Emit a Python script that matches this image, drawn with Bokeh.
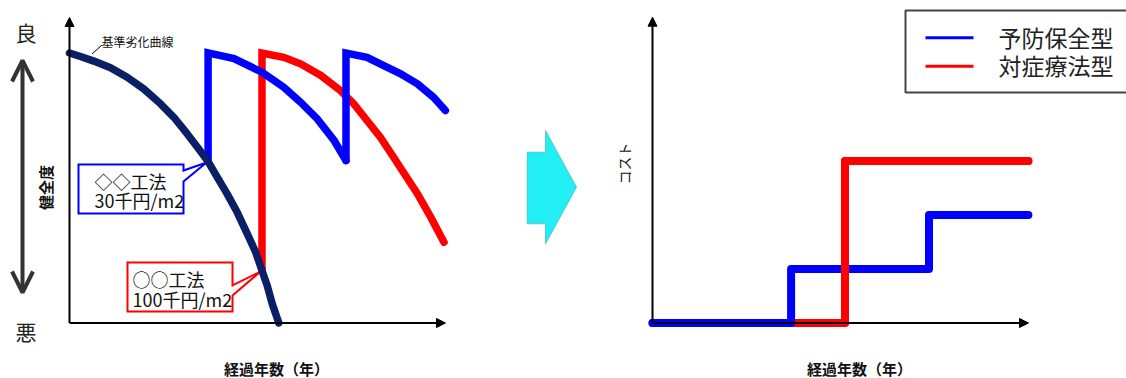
import numpy as np
from bokeh.plotting import figure
from bokeh.models import Range1d, Arrow, NormalHead, OpenHead
from bokeh.layouts import row
from bokeh.core.properties import value
from bokeh.embed import file_html
from bokeh.resources import INLINE

# ---------------- data ----------------
# Left panel: soundness (health index) vs elapsed years
base_years = [0, 1.57, 3.47, 5.86, 8.24, 10.6, 13.0, 14.9, 16.8, 18.25, 19.7,
              21.1, 22.5, 23.96, 25.4, 26.6, 27.5, 28.24, 28.96, 29.9]
base_health = [100, 98.7, 97.0, 94.5, 91.0, 86.7, 81.2, 76.2, 70.1, 65.2, 60.2,
               54.0, 47.9, 41.0, 33.0, 26.2, 19.4, 13.9, 7.1, 0]
prev_years = [19.8, 19.8, 21.6, 23.5, 27.5, 30.6, 33.0, 35.4, 37.8, 39.5,
              39.5, 42.5, 44.9, 47.3, 49.7, 52.0, 53.7]
prev_health = [60.2, 100, 99.0, 97.9, 92.9, 87.3, 81.8, 75.6, 67.6, 60.2,
               100, 98.4, 95.3, 92.3, 88.6, 83.6, 78.7]
corr_years = [27.5, 27.5, 30.6, 33.0, 35.9, 38.7, 40.6, 42.5, 44.4, 46.3, 48.0,
              49.7, 51.6, 53.5]
corr_health = [19.4, 100, 98.4, 96.0, 91.7, 86.1, 81.2, 75.0, 68.8, 61.4, 54.6,
               47.9, 39.2, 29.9]

# Right panel: cumulative cost vs elapsed years
prev_cost_years = [0, 19.8, 19.8, 39.5, 39.5, 53.7]
prev_cost = [0, 0, 30, 30, 60, 60]
corr_cost_years = [0, 27.5, 27.5, 53.7]
corr_cost = [0, 0, 90, 90]

base_label = "基準劣化曲線"
prev_method = ["◇◇工法", "30千円/m2"]
corr_method = ["○○工法", "100千円/m2"]
legend_labels = ["予防保全型", "対症療法型"]
x_title = "経過年数（年）"
left_y_title = "健全度"
right_y_title = "コスト"
good_bad = ["良", "悪"]

# ---------------- layout helpers ----------------
FONT = value("Noto Sans CJK JP")
NAVY = "#0A1F66"
BLUE = "#0000FF"
RED = "#FF0000"

H = 378
LW, RW = 500, 626
L_X0, L_Y0, L_XS, L_YS = 69.0, 322.5, 7.0, 2.7
R_X0, R_Y0, R_XS, R_YS = 652.0, 322.5, 7.0, 1.8


def lx(s):
    return (s - L_X0) / L_XS


def ly(s):
    return (L_Y0 - s) / L_YS


def rx(s):
    return (s - R_X0) / R_XS


def ry(s):
    return (R_Y0 - s) / R_YS


def base_fig(w, xr, yr):
    p = figure(width=w, height=H, x_range=Range1d(*xr), y_range=Range1d(*yr),
               x_axis_type=None, y_axis_type=None, toolbar_location=None,
               output_backend="svg", min_border=0, title=None)
    p.outline_line_color = None
    p.background_fill_color = "white"
    p.border_fill_color = "white"
    return p


def txt(p, x, y, t, size, align="left", angle=0.0, style="normal", color="#111111"):
    p.text(x=[x], y=[y], text=[t], text_font=FONT, text_font_size=size,
           text_align=align, text_baseline="middle", angle=angle,
           text_font_style=style, text_color=color)


def axis_arrow(p, x0, y0, x1, y1):
    p.add_layout(Arrow(end=NormalHead(size=9, fill_color="black", line_color="black", line_width=1),
                       x_start=x0, y_start=y0, x_end=x1, y_end=y1,
                       line_width=2, line_color="black"))


# ---------------- left panel ----------------
p1 = base_fig(LW, (lx(0), lx(LW)), (ly(H), ly(0)))

axis_arrow(p1, 0, 0, 0, ly(17))
axis_arrow(p1, 0, 0, lx(445), 0)

# good / bad double arrow
p1.add_layout(Arrow(start=OpenHead(size=21, line_width=4, line_color="#333333"),
                    end=OpenHead(size=21, line_width=4, line_color="#333333"),
                    x_start=lx(22), y_start=ly(292), x_end=lx(22), y_end=ly(60),
                    line_width=4, line_color="#333333"))
txt(p1, lx(25.5), ly(31), good_bad[0], "21px", align="center", color="#222222")
txt(p1, lx(25.5), ly(330), good_bad[1], "21px", align="center", color="#222222")
txt(p1, lx(45), ly(187), left_y_title, "15px", align="center", angle=np.pi / 2, style="bold")
txt(p1, lx(276), ly(368), x_title, "15px", align="center", style="bold")

# callout boxes
bx = [78, 183, 183, 206, 183, 183, 78]
by = [164, 164, 170, 162, 181, 213, 213]
p1.patch([lx(v) for v in bx], [ly(v) for v in by], fill_color="white",
         line_color=BLUE, line_width=2, line_join="miter")
rxp = [127, 232, 232, 260, 232, 232, 127]
ryp = [262, 262, 285, 271, 295, 311, 311]
p1.patch([lx(v) for v in rxp], [ly(v) for v in ryp], fill_color="white",
         line_color=RED, line_width=2, line_join="miter")
txt(p1, lx(94), ly(180), prev_method[0], "18px")
txt(p1, lx(94), ly(199), prev_method[1], "18px")
txt(p1, lx(132), ly(278), corr_method[0], "18px")
txt(p1, lx(132), ly(298), corr_method[1], "18px")

# curves
p1.line(corr_years, corr_health, line_color=RED, line_width=7.5,
        line_cap="round", line_join="miter")
p1.line(prev_years[:10], prev_health[:10], line_color=BLUE, line_width=7.5,
        line_cap="round", line_join="miter")
p1.line(prev_years[9:], prev_health[9:], line_color=BLUE, line_width=7.5,
        line_cap="round", line_join="miter")
p1.line(base_years, base_health, line_color=NAVY, line_width=7.5,
        line_cap="round", line_join="round")

# base curve label with leader
p1.line([lx(91.5), lx(101.5)], [ly(53.5), ly(44.5)], line_color="black", line_width=1)
txt(p1, lx(101), ly(40.5), base_label, "12px", color="#111111")

# ---------------- right panel ----------------
p2 = base_fig(RW, (rx(LW), rx(LW + RW)), (ry(H), ry(0)))

# big cyan arrow
ax = [526.7, 545, 545, 576, 545, 545, 526.7]
ay = [151.7, 151.7, 130, 186.7, 243.3, 223.3, 223.3]
p2.patch([rx(v) for v in ax], [ry(v) for v in ay], fill_color="#22EEF5",
         line_color="#4FB9C2", line_width=0.8)

axis_arrow(p2, 0, 0, 0, ry(16.7))
axis_arrow(p2, 0, 0, rx(1028), 0)

txt(p2, rx(623.5), ry(163), right_y_title, "14px", align="center", angle=np.pi / 2)
txt(p2, rx(859), ry(368), x_title, "15px", align="center", style="bold")

# cost step lines
p2.line(corr_cost_years, corr_cost, line_color=RED, line_width=8,
        line_cap="round", line_join="round")
p2.line(prev_cost_years, prev_cost, line_color=BLUE, line_width=8,
        line_cap="round", line_join="round")
p2.line(corr_cost_years[1:], corr_cost[1:], line_color=RED, line_width=8,
        line_cap="round", line_join="round")

# legend box
p2.quad(left=[rx(905)], right=[rx(1132)], top=[ry(10)], bottom=[ry(92)],
        fill_color="white", line_color="#444444", line_width=2)
for yy, col, lab in [(37.3, BLUE, legend_labels[0]), (65.7, RED, legend_labels[1])]:
    p2.line([rx(925), rx(973)], [ry(yy), ry(yy)], line_color=col, line_width=3)
    txt(p2, rx(998), ry(yy - 1), lab, "23px", color="#222222")

layout = row(p1, p2)
open("out.html", "w").write(file_html(layout, INLINE))
